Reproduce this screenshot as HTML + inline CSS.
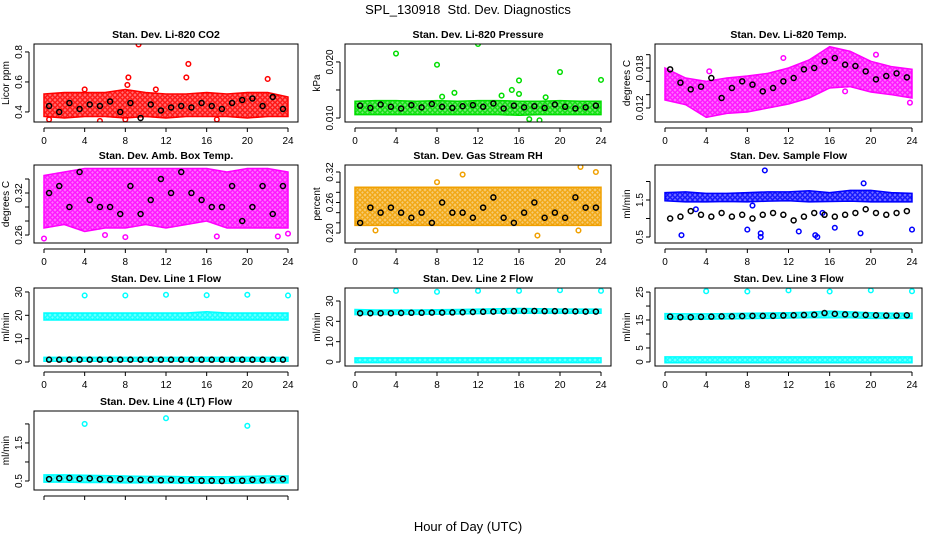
<!DOCTYPE html>
<html><head><meta charset="utf-8"><style>
body{margin:0;background:#fff;}
svg{display:block;font-family:"Liberation Sans",sans-serif;}
</style></head><body>
<svg id="chart" width="936" height="540" viewBox="0 0 936 540">
<text x="468" y="14" font-size="13" text-anchor="middle" xml:space="preserve">SPL_130918  Std. Dev. Diagnostics</text>
<text x="468" y="531" font-size="13" text-anchor="middle">Hour of Day (UTC)</text>
</svg>
<script>
// shared hours
const bandHours=[0,2,4,6,8,10,12,14,16,18,20,22,24];
const blackHours=[0.5,1.5,2.5,3.5,4.5,5.5,6.5,7.5,8.5,9.5,10.5,11.5,12.5,13.5,14.5,15.5,16.5,17.5,18.5,19.5,20.5,21.5,22.5,23.5];
const xTicks=[0,4,8,12,16,20,24];

// P1 CO2
const co2Lo=[0.37,0.36,0.37,0.37,0.36,0.37,0.36,0.37,0.37,0.37,0.36,0.37,0.37];
const co2Hi=[0.52,0.53,0.53,0.53,0.55,0.53,0.52,0.52,0.53,0.52,0.53,0.53,0.50];
const co2Black=[0.44,0.40,0.46,0.42,0.45,0.44,0.47,0.40,0.46,0.36,0.45,0.41,0.43,0.44,0.43,0.46,0.44,0.42,0.46,0.48,0.49,0.44,0.50,0.42];
const co2OutX=[9.3,8.3,8.2,14.2,14.0,22.0,5.5,8.0,11.0,0.5,17,4];
const co2OutY=[0.85,0.63,0.58,0.72,0.63,0.62,0.34,0.35,0.55,0.35,0.35,0.55];
const co2Ticks=[0.4,0.6,0.8]; const co2Labels=["0.4","0.6","0.8"];
// P2 pressure
const presLo=[0.0106,0.0106,0.0106,0.0106,0.0106,0.0106,0.0106,0.0106,0.0105,0.0106,0.0106,0.0106,0.0106];
const presHi=[0.0130,0.0131,0.0131,0.0130,0.0131,0.0130,0.0131,0.0131,0.0130,0.0130,0.0131,0.0130,0.0130];
const presBlack=[0.0122,0.0118,0.0124,0.0120,0.0117,0.0123,0.0119,0.0125,0.0120,0.0118,0.0121,0.0123,0.0120,0.0126,0.0117,0.0122,0.0119,0.0121,0.0118,0.0124,0.0120,0.0117,0.0119,0.0122];
const presOutX=[12,4,8,20,24,16,15.3,9.7,16,14.3,8.5,18.6,17,18];
const presOutY=[0.0232,0.0215,0.0195,0.0182,0.0168,0.0167,0.0150,0.0145,0.0143,0.0140,0.0138,0.0137,0.0098,0.0096];
const presTicks=[0.010,0.015,0.020]; const presLabels=["0.010","","0.020"];
// P3 Li-820 temp
const tempLo=[0.0132,0.0125,0.0106,0.0112,0.0114,0.0120,0.0126,0.0135,0.0150,0.0152,0.0144,0.0140,0.0135];
const tempHi=[0.0180,0.0165,0.0160,0.0165,0.0168,0.0172,0.0180,0.0192,0.0212,0.0205,0.0190,0.0182,0.0178];
const tempBlack=[0.0178,0.0158,0.0148,0.0152,0.0165,0.0135,0.0150,0.0160,0.0155,0.0145,0.0150,0.0160,0.0165,0.0178,0.0180,0.0190,0.0195,0.0185,0.0183,0.0175,0.0163,0.0168,0.0172,0.0166];
const tempOutX=[20.5,11.5,17.5,23.8,4.3];
const tempOutY=[0.0200,0.0195,0.0145,0.0128,0.0175];
const tempTicks=[0.012,0.014,0.016,0.018,0.020]; const tempLabels=["0.012","","","0.018",""];
// P4 amb box temp
const ambLo=[0.27,0.275,0.265,0.27,0.27,0.275,0.27,0.275,0.28,0.27,0.27,0.27,0.27];
const ambHi=[0.345,0.35,0.355,0.355,0.355,0.355,0.355,0.355,0.355,0.35,0.355,0.355,0.35];
const ambBlack=[0.32,0.33,0.30,0.35,0.31,0.30,0.30,0.29,0.33,0.29,0.31,0.34,0.32,0.35,0.32,0.31,0.30,0.30,0.33,0.28,0.30,0.33,0.29,0.33];
const ambOutX=[0,8,6,17,23,24];
const ambOutY=[0.255,0.257,0.26,0.258,0.258,0.262];
const ambTicks=[0.26,0.28,0.30,0.32,0.34]; const ambLabels=["0.26","","","0.32",""];
// P5 RH
const rhLo=[0.215,0.215,0.215,0.215,0.215,0.215,0.215,0.215,0.215,0.215,0.215,0.215,0.215];
const rhHi=[0.29,0.29,0.29,0.29,0.29,0.29,0.29,0.29,0.29,0.29,0.29,0.29,0.29];
const rhBlack=[0.22,0.25,0.24,0.25,0.24,0.23,0.24,0.22,0.26,0.24,0.24,0.23,0.25,0.27,0.23,0.22,0.24,0.26,0.23,0.24,0.23,0.27,0.25,0.25];
const rhOutX=[22,23.5,10.5,2,17.8,21.8,8];
const rhOutY=[0.33,0.32,0.315,0.205,0.195,0.205,0.30];
const rhTicks=[0.20,0.22,0.24,0.26,0.28,0.30,0.32]; const rhLabels=["0.20","","","0.26","","","0.32"];
// P6 sample flow
const sfLo=[1.48,1.45,1.45,1.46,1.45,1.47,1.48,1.45,1.46,1.47,1.45,1.45,1.45];
const sfHi=[1.70,1.72,1.68,1.68,1.70,1.72,1.72,1.75,1.70,1.76,1.76,1.70,1.68];
const sfBlack=[1.0,1.05,1.2,1.1,1.05,1.15,1.05,1.1,1.0,1.1,1.15,1.1,0.95,1.05,1.15,1.1,1.05,1.1,1.15,1.25,1.15,1.1,1.15,1.2];
const sfOutX=[1.6,8,9.3,9.3,9.7,13,14.6,14.8,16.5,19,19.3,24,3,8.5,15.3];
const sfOutY=[0.55,0.7,0.6,0.5,2.3,0.65,0.55,0.5,0.75,0.6,1.95,0.7,1.25,1.35,1.15];
const sfTicks=[0.5,1.0,1.5,2.0]; const sfLabels=["0.5","","1.5",""];
// P7 line 1
const l1Lo=[18,18,18,18,18,18,18,18,18,18,18,18,18];
const l1Hi=[21,21,21,21,21,21,21,21,21.5,21,21,21,21];
const l1Lo2=[0.3,0.3,0.3,0.3,0.3,0.3,0.3,0.3,0.3,0.3,0.3,0.3,0.3];
const l1Hi2=[2,2,2,2,2,2,2,2,2,2,2,2,2];
const l1Black=[1,1,1,1,1,1,1,1,1,1,1,1,1,1,1,1,1,1,1,1,1,1,1,1];
const l1OutX=[4,8,12,16,20,24];
const l1OutY=[28.5,28.5,28.8,28.6,28.8,28.5];
const l1Ticks=[0,10,20,30]; const l1Labels=["0","10","20","30"];
// P8 line 2
const l2Lo=[23.3,23.3,23.4,23.4,23.5,23.6,23.8,24.0,24.0,24.0,24.0,24.0,24.0];
const l2Hi=[25.8,25.6,25.6,25.6,25.7,25.8,26.0,26.2,26.3,26.2,26.0,26.0,26.0];
const l2Lo2=[-0.3,-0.3,-0.3,-0.3,-0.3,-0.3,-0.3,-0.3,-0.3,-0.3,-0.3,-0.3,-0.3];
const l2Hi2=[2,2,2,2,2,2,2,2,2,2,2,2,2];
const l2Black=[24,24,24,24,24.1,24.2,24.2,24.3,24.3,24.4,24.5,24.6,24.7,24.8,24.9,25,25.1,25.1,25,25,25,24.9,24.8,24.8];
const l2OutX=[4,8,12,16,20,24];
const l2OutY=[35,34.5,35,35,35.3,35];
const l2Ticks=[0,10,20,30]; const l2Labels=["0","10","20","30"];
// P9 line 3
const l3Lo=[15.3,15.3,15.3,15.4,15.5,15.6,15.7,15.8,15.8,15.8,15.6,15.6,15.6];
const l3Hi=[17.3,17.2,17.2,17.3,17.4,17.5,17.6,17.8,18.2,17.9,17.6,17.4,17.4];
const l3Lo2=[-0.3,-0.3,-0.3,-0.3,-0.3,-0.3,-0.3,-0.3,-0.3,-0.3,-0.3,-0.3,-0.3];
const l3Hi2=[1.8,1.8,1.8,1.8,1.8,1.8,1.8,1.8,1.8,1.8,1.8,1.8,1.8];
const l3Black=[16.2,16,16,16.1,16.2,16.3,16.3,16.4,16.5,16.5,16.5,16.6,16.7,16.8,16.9,17.5,17.2,17,16.9,16.8,16.7,16.6,16.6,16.7];
const l3OutX=[4,8,12,16,20,24];
const l3OutY=[25.3,25.2,25.6,25.2,25.6,25.3];
const l3Ticks=[0,5,10,15,20,25]; const l3Labels=["0","5","","15","","25"];
// P10 line 4
const l4Lo=[0.47,0.47,0.46,0.46,0.45,0.45,0.45,0.44,0.44,0.44,0.44,0.45,0.45];
const l4Hi=[0.66,0.66,0.65,0.64,0.63,0.62,0.62,0.61,0.61,0.61,0.62,0.63,0.63];
const l4Black=[0.55,0.57,0.58,0.56,0.57,0.55,0.54,0.55,0.54,0.53,0.54,0.52,0.53,0.52,0.53,0.51,0.51,0.50,0.52,0.51,0.53,0.52,0.54,0.55];
const l4OutX=[4,12,20];
const l4OutY=[2.0,2.15,1.95];
const l4Ticks=[0.5,1.0,1.5,2.0]; const l4Labels=["0.5","","1.5",""];

const NS="http://www.w3.org/2000/svg";
const svg=document.getElementById('chart');
function mk(tag,attrs,parent){const e=document.createElementNS(NS,tag);for(const k in attrs)e.setAttribute(k,attrs[k]);(parent||svg).appendChild(e);return e;}

const defs=mk('defs',{});
const patCache={};
function pattern(col){
  if(patCache[col])return patCache[col];
  const id='pat'+Object.keys(patCache).length;
  const p=mk('pattern',{id:id,width:5,height:5,patternUnits:'userSpaceOnUse'},defs);
  mk('rect',{x:0,y:0,width:5,height:5,fill:col,'fill-opacity':0.55},p);
  mk('circle',{cx:2.5,cy:2.5,r:1.8,fill:'none',stroke:col,'stroke-width':1.2},p);
  patCache[col]='url(#'+id+')';
  return patCache[col];
}

const cols=[[34,298],[345,611],[655,922]];
const rows=[[44,122],[165,243],[288,366],[411,490]];
const panels=[
 {id:'co2',t:'Stan. Dev. Li-820 CO2',ya:'Licor ppm',c:0,r:0,ymin:0.333,ymax:0.853,col:'#ff0000',bands:[[co2Lo,co2Hi]],blk:co2Black,ox:co2OutX,oy:co2OutY,tk:co2Ticks,tl:co2Labels},
 {id:'pressure',t:'Stan. Dev. Li-820 Pressure',ya:'kPa',c:1,r:0,ymin:0.00929,ymax:0.0232,col:'#00dd00',bands:[[presLo,presHi]],blk:presBlack,ox:presOutX,oy:presOutY,tk:presTicks,tl:presLabels},
 {id:'li820-temp',t:'Stan. Dev. Li-820 Temp.',ya:'degrees C',c:2,r:0,ymin:0.0099,ymax:0.0216,col:'#ff00ff',bands:[[tempLo,tempHi]],blk:tempBlack,ox:tempOutX,oy:tempOutY,tk:tempTicks,tl:tempLabels},
 {id:'amb-box-temp',t:'Stan. Dev. Amb. Box Temp.',ya:'degrees C',c:0,r:1,ymin:0.2486,ymax:0.36,col:'#ff00ff',bands:[[ambLo,ambHi]],blk:ambBlack,ox:ambOutX,oy:ambOutY,tk:ambTicks,tl:ambLabels},
 {id:'gas-rh',t:'Stan. Dev. Gas Stream RH',ya:'percent',c:1,r:1,ymin:0.1803,ymax:0.3338,col:'#f0a000',bands:[[rhLo,rhHi]],blk:rhBlack,ox:rhOutX,oy:rhOutY,tk:rhTicks,tl:rhLabels},
 {id:'sample-flow',t:'Stan. Dev. Sample Flow',ya:'ml/min',c:2,r:1,ymin:0.338,ymax:2.446,col:'#0000ff',bands:[[sfLo,sfHi]],blk:sfBlack,ox:sfOutX,oy:sfOutY,tk:sfTicks,tl:sfLabels},
 {id:'line1-flow',t:'Stan. Dev. Line 1 Flow',ya:'ml/min',c:0,r:2,ymin:-1.71,ymax:31.7,col:'#00ffff',bands:[[l1Lo,l1Hi],[l1Lo2,l1Hi2]],blk:l1Black,ox:l1OutX,oy:l1OutY,tk:l1Ticks,tl:l1Labels},
 {id:'line2-flow',t:'Stan. Dev. Line 2 Flow',ya:'ml/min',c:1,r:2,ymin:-1.97,ymax:36.4,col:'#00ffff',bands:[[l2Lo,l2Hi],[l2Lo2,l2Hi2]],blk:l2Black,ox:l2OutX,oy:l2OutY,tk:l2Ticks,tl:l2Labels},
 {id:'line3-flow',t:'Stan. Dev. Line 3 Flow',ya:'ml/min',c:2,r:2,ymin:-1.45,ymax:26.45,col:'#00ffff',bands:[[l3Lo,l3Hi],[l3Lo2,l3Hi2]],blk:l3Black,ox:l3OutX,oy:l3OutY,tk:l3Ticks,tl:l3Labels},
 {id:'line4-flow',t:'Stan. Dev. Line 4 (LT) Flow',ya:'ml/min',c:0,r:3,ymin:0.263,ymax:2.34,col:'#00ffff',bands:[[l4Lo,l4Hi]],blk:l4Black,ox:l4OutX,oy:l4OutY,tk:l4Ticks,tl:l4Labels,noXLab:true}
];

panels.forEach(p=>{
  const [L,R]=cols[p.c],[T,B]=rows[p.r];
  const x0=L+10,x1=R-10;
  const X=h=>x0+(x1-x0)*h/24;
  const Y=v=>B-(B-T)*(v-p.ymin)/(p.ymax-p.ymin);
  const g=mk('g',{});
  
  
  const tt=mk('text',{x:(L+R)/2,y:T-6,'font-size':10.5,'font-weight':'bold','text-anchor':'middle'},g);
  tt.textContent=p.t;
  
  
  const cl='clip-'+p.id;
  const cp=mk('clipPath',{id:cl},g);mk('rect',{x:L,y:T,width:R-L,height:B-T},cp);
  const pg=mk('g',{'clip-path':'url(#'+cl+')'},g);
  p.bands.forEach((bd,bi)=>{
    let pts=bandHours.map((h,i)=>X(h)+','+Y(bd[1][i]));
    pts=pts.concat(bandHours.slice().reverse().map((h,j)=>{const i=bandHours.length-1-j;return X(h)+','+Y(bd[0][i]);}));
    const pl=mk('polygon',{points:pts.join(' '),fill:pattern(p.col),stroke:p.col,'stroke-width':1.5},pg);
    
    
  });
  p.ox.forEach((h,i)=>{
    const c=mk('circle',{cx:X(h),cy:Y(p.oy[i]),r:2.3,fill:'none',stroke:p.col,'stroke-width':1.5},pg);
    
    
  });
  p.blk.forEach((v,i)=>{
    const c=mk('circle',{cx:X(blackHours[i]),cy:Y(v),r:2.5,fill:'none',stroke:'#000','stroke-width':1.5},pg);
    
    
  });
  mk('rect',{x:L,y:T,width:R-L,height:B-T,fill:'none',stroke:'#000','stroke-width':1},g);
  // x axis
  const ay=B+6;
  mk('line',{x1:X(0),x2:X(24),y1:ay,y2:ay,stroke:'#000'},g);
  xTicks.forEach(h=>{
    mk('line',{x1:X(h),x2:X(h),y1:ay,y2:ay+4,stroke:'#000'},g);
    if(!p.noXLab){const t=mk('text',{x:X(h),y:ay+16,'font-size':10,'text-anchor':'middle'},g);t.textContent=h;
      
      }
  });
  // y axis
  const ax=L-5;
  mk('line',{x1:ax,x2:ax,y1:Y(p.tk[0]),y2:Y(p.tk[p.tk.length-1]),stroke:'#000'},g);
  p.tk.forEach((v,i)=>{
    mk('line',{x1:ax-4,x2:ax,y1:Y(v),y2:Y(v),stroke:'#000'},g);
    if(p.tl[i]){const t=mk('text',{x:0,y:0,'font-size':10,'text-anchor':'middle',transform:`translate(${ax-7},${Y(v)}) rotate(-90)`},g);t.textContent=p.tl[i];
      
      }
  });
  const yt=mk('text',{x:0,y:0,'font-size':10,'text-anchor':'middle',transform:`translate(${ax-20},${(T+B)/2}) rotate(-90)`},g);
  yt.textContent=p.ya;
  
  
});
</script>
</body></html>
